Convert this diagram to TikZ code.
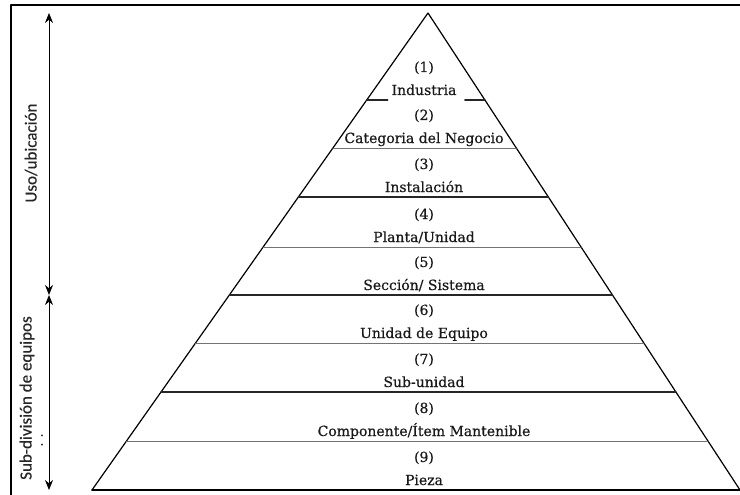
\documentclass[tikz,border=0pt]{standalone}
\usepackage{fontspec}
\setmainfont[FakeBold=0.6]{DejaVu Serif}
\newfontfamily\ladofont[FakeBold=0.4]{Carlito}
\usetikzlibrary{calc,arrows.meta}

\begin{document}
\begin{tikzpicture}[x=1pt, y=-1pt, line join=round, line cap=round, >={Stealth[length=10pt,width=8pt]},
		nivel/.style={font=\fontsize{14}{16}\selectfont, inner sep=0pt, anchor=base, text=black!90},
		lado/.style={font=\ladofont\fontsize{17}{19}\selectfont, rotate=90, inner sep=0pt, text=black!85},
		gruesa/.style={line width=1.4pt, black!85},
		fina/.style={line width=0.8pt, black!55}]
	\useasboundingbox (0,0) rectangle (740,495);
	%%%%%%%%%%%%%%%%%%%%%%%%%%%%%%%%%
	\coordinate (V) at (428,13);
	\coordinate (BI) at (92,490);
	\coordinate (BD) at (740,490);
	\coordinate (A1) at (49,13);
	\coordinate (A2) at (49,295);
	\coordinate (A3) at (49,490);
	%%%%%%%%%%%%%%%%%%%%%%%%%%%%%%%%%
	\draw[line width=2pt] (11,495) -- (11,5) -- (740,5);
	\draw[line width=1.2pt] (BI) -- (V) -- (BD);
	\draw[line width=1.8pt] (BI) -- (BD);
	\draw[gruesa] ($(V)!0.1824!(BI)$) -- ++(21,0);
	\draw[gruesa] ($(V)!0.1824!(BD)$) -- ++(-20,0);
	\foreach \t/\s in {0.283/fina, 0.3857/gruesa, 0.4906/fina, 0.5912/gruesa, 0.6918/fina, 0.7945/gruesa, 0.8973/fina}
		\draw[\s] ($(V)!\t!(BI)$) -- ($(V)!\t!(BD)$);
	%%%%%%%%%%%%%%%%%%%%%%%%%%%%%%%%%
	\foreach \i/\y/\txt in {1/100/{Industria}, 2/148/{Categoria del Negocio}, 3/197/{Instalación},
			4/247/{Planta/Unidad}, 5/295/{Sección/ Sistema}, 6/343/{Unidad de Equipo},
			7/392/{Sub-unidad}, 8/441/{Componente/Ítem Mantenible}, 9/490/{Pieza}}{
		\node[nivel] (num\i) at (424,\y-28) {(\i)};
		\node[nivel] (txt\i) at (424,\y-5) {\txt};
	}
	%%%%%%%%%%%%%%%%%%%%%%%%%%%%%%%%%
	\draw[<->, line width=1pt] (A1) -- (A2);
	\draw[<->, line width=1pt] (A2) -- (A3);
	\node[lado] (uso) at (31,153) {Uso/ubicación};
	\node[lado] (sub) at (27,398) {Sub-división de equipos};
	\node[lado, font=\ladofont\fontsize{13}{15}\selectfont] (pts) at (42,440) {.\ \ .};
	%%%%%%%%%%%%%%%%%%%%%%%%%%%%%%%%%
\end{tikzpicture}
\end{document}
